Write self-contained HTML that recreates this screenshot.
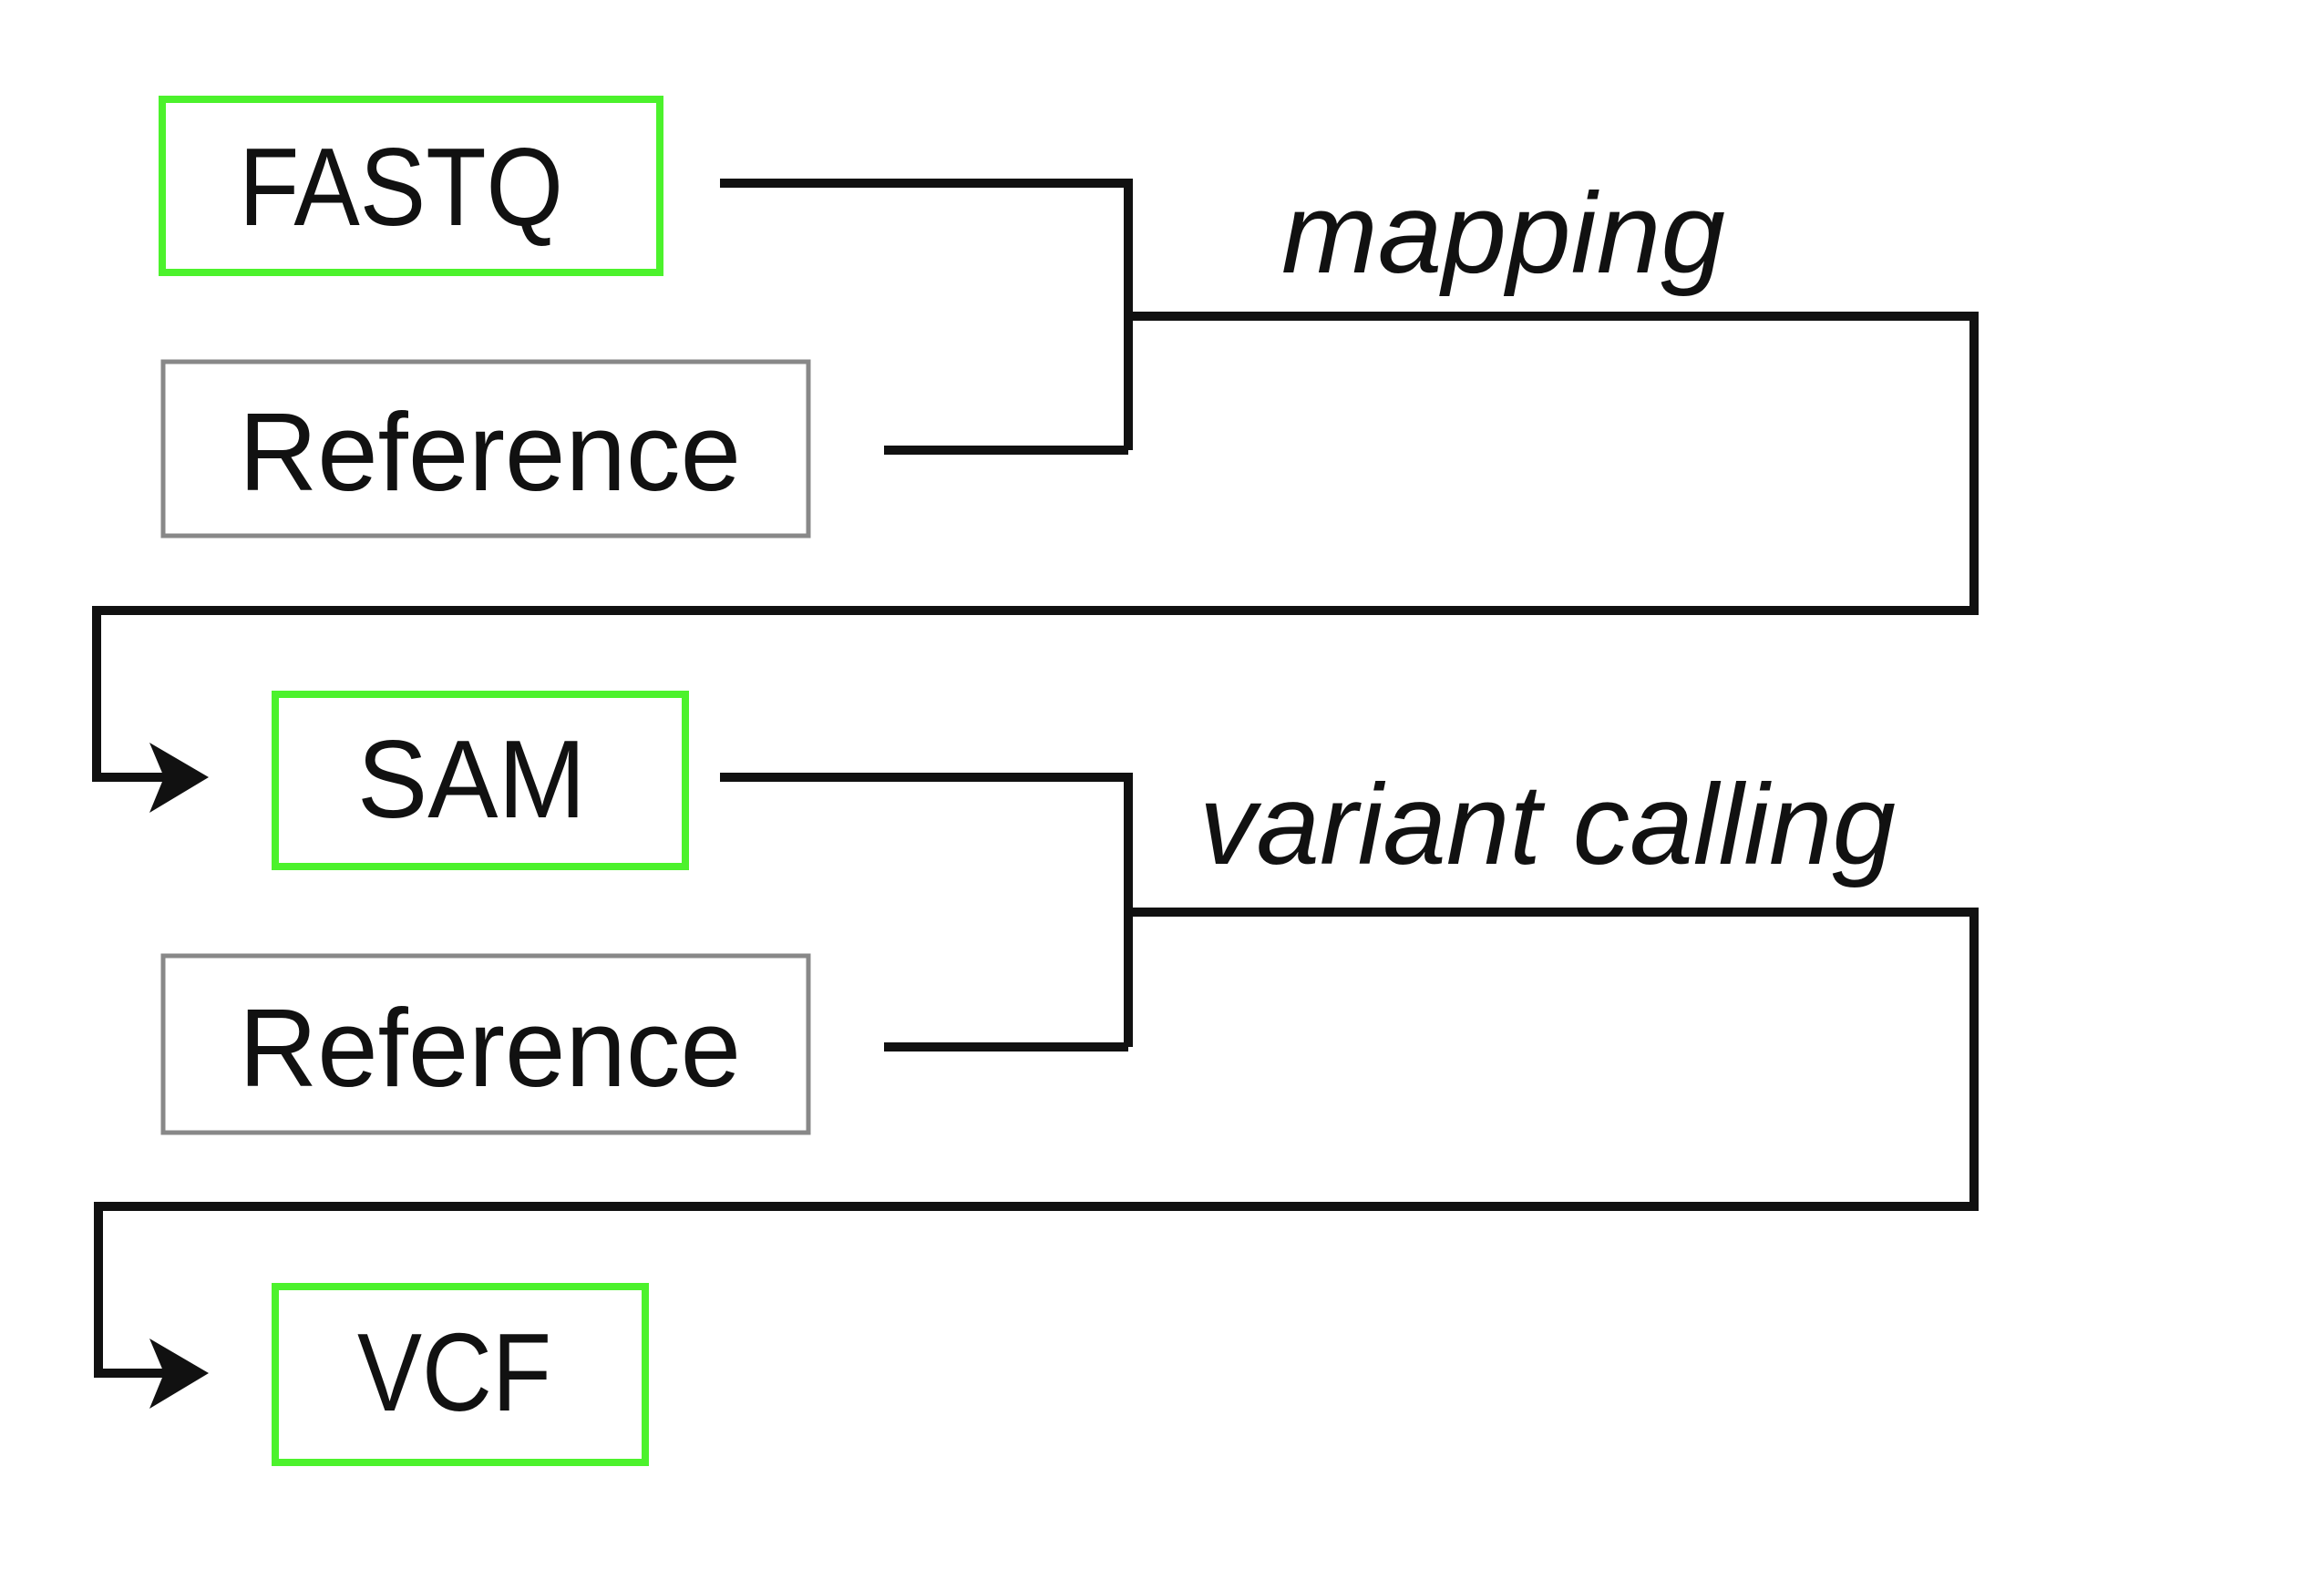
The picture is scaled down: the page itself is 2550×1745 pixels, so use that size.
<!DOCTYPE html>
<html><head><meta charset="utf-8"><style>html,body{margin:0;padding:0;background:#fff;}svg{display:block}</style></head>
<body>
<svg width="2550" height="1745" viewBox="0 0 2550 1745" xmlns="http://www.w3.org/2000/svg">
<rect width="2550" height="1745" fill="#fff"/>
<g fill="none" stroke-width="8">
<rect x="178" y="109" width="546" height="190" stroke="#4cf22c"/>
<rect x="302" y="762" width="450" height="189" stroke="#4cf22c"/>
<rect x="302" y="1412" width="406" height="193" stroke="#4cf22c"/>
</g>
<g fill="none" stroke="#888" stroke-width="5">
<rect x="179" y="397" width="708" height="191"/>
<rect x="179" y="1049" width="708" height="194"/>
</g>
<g fill="none" stroke="#111" stroke-width="10" stroke-linejoin="miter">
<polyline points="790,201 1238,201 1238,494"/>
<polyline points="970,494 1238,494"/>
<polyline points="1238,347 2166,347 2166,670 106,670 106,853 200,853"/>
<polyline points="790,853 1238,853 1238,1149"/>
<polyline points="970,1149 1238,1149"/>
<polyline points="1238,1001 2166,1001 2166,1324 108,1324 108,1507 200,1507"/>
</g>
<polygon points="229,853 164,815 180,853 164,892" fill="#111"/>
<polygon points="229,1507 164,1469 180,1507 164,1546" fill="#111"/>
<g font-family="Liberation Sans, sans-serif" fill="#111" font-size="122">
<text x="262" y="247" textLength="356" lengthAdjust="spacingAndGlyphs">FASTQ</text>
<text x="262" y="538" textLength="551" lengthAdjust="spacingAndGlyphs">Reference</text>
<text x="392" y="897" textLength="251" lengthAdjust="spacingAndGlyphs">SAM</text>
<text x="262" y="1192" textLength="551" lengthAdjust="spacingAndGlyphs">Reference</text>
<text x="392" y="1548" textLength="213" lengthAdjust="spacingAndGlyphs">VCF</text>
<text x="1406" y="299" font-style="italic" font-size="125" textLength="487" lengthAdjust="spacingAndGlyphs">mapping</text>
<text x="1316" y="948" font-style="italic" font-size="125" textLength="764" lengthAdjust="spacingAndGlyphs">variant calling</text>
</g>
</svg>
</body></html>
